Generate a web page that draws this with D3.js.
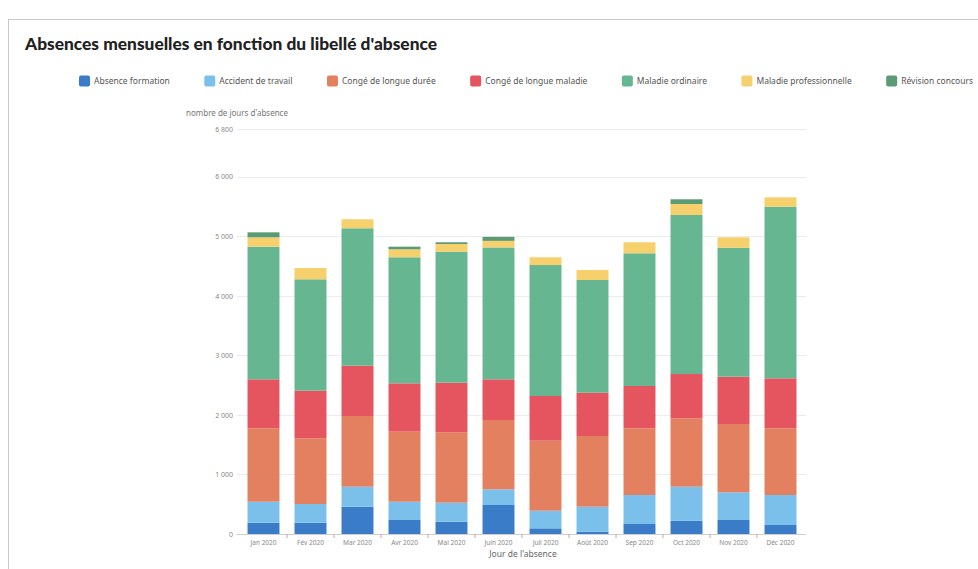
<!DOCTYPE html>
<html lang="fr">
<head>
<meta charset="utf-8">
<script src="https://cdn.jsdelivr.net/npm/d3@7"></script>
<style>
  html, body { margin: 0; padding: 0; background: #fff; }
  svg { display: block; font-family: "Noto Sans", "Open Sans", sans-serif; }
</style>
</head>
<body>
<svg id="chart" width="978" height="569"></svg>
<script>
// Months shown on the x axis
const months = ["Jan 2020", "Fév 2020", "Mar 2020", "Avr 2020", "Mai 2020", "Juin 2020",
                "Juil 2020", "Août 2020", "Sep 2020", "Oct 2020", "Nov 2020", "Déc 2020"];

// Absence types, stacked bottom to top
const labels = ["Absence formation", "Accident de travail", "Congé de longue durée",
                "Congé de longue maladie", "Maladie ordinaire", "Maladie professionnelle",
                "Révision concours"];

// Days of absence per month for each type
const absenceFormation      = [190, 190, 458, 235, 207, 487,  95,  39, 168, 224, 235, 151];
const accidentTravail       = [352, 314, 336, 307, 319, 263, 296, 419, 487, 570, 465, 504];
const congeLongueDuree      = [1233, 1103, 1187, 1176, 1182, 1164, 1176, 1187, 1120, 1148, 1147, 1120];
const congeLongueMaladie    = [822, 799, 845, 812, 833, 683, 750, 727, 710, 744, 794, 839];
const maladieOrdinaire      = [2227, 1870, 2307, 2116, 2199, 2214, 2199, 1893, 2228, 2670, 2166, 2881];
const maladieProfessionnelle= [157, 190, 151, 134, 129, 111, 130, 168, 185, 185, 174, 158];
const revisionConcours      = [84, 0, 0, 44, 29, 67, 0, 0, 0, 79, 0, 0];

// Y axis ticks
const yTicks = [0, 1000, 2000, 3000, 4000, 5000, 6000, 6800];
const yMax = 6800;

const colors = ["#3a7cc8", "#7bc0eb", "#e2805f", "#e5555f", "#66b692", "#f5d06c", "#5a9a75"];

const seriesValues = [absenceFormation, accidentTravail, congeLongueDuree, congeLongueMaladie,
                      maladieOrdinaire, maladieProfessionnelle, revisionConcours];

const rows = months.map((m, i) => {
  const r = { month: m };
  labels.forEach((l, k) => { r[l] = seriesValues[k][i]; });
  return r;
});

const svg = d3.select("#chart");

// Card frame
svg.append("rect")
  .attr("x", 8.5).attr("y", 19.5)
  .attr("width", 1000).attr("height", 600)
  .attr("fill", "none").attr("stroke", "#c9c9c9").attr("stroke-width", 1);

// Title
const title = svg.append("text")
  .attr("x", 25).attr("y", 50)
  .attr("font-family", "Lato, 'Noto Sans', sans-serif")
  .attr("font-weight", 900)
  .attr("font-size", 16)
  .attr("fill", "#222")
  .text("Absences mensuelles en fonction du libellé d'absence");
title.attr("textLength", 412).attr("lengthAdjust", "spacingAndGlyphs");

// Legend
const legend = svg.append("g");
const items = legend.selectAll("g").data(labels).join("g");
items.append("rect")
  .attr("width", 11).attr("height", 11).attr("rx", 2)
  .attr("y", -5.5)
  .attr("fill", (d, i) => colors[i]);
items.append("text")
  .attr("x", 15).attr("y", 0).attr("dy", "0.35em")
  .attr("font-size", 8.5).attr("fill", "#555")
  .text(d => d);
const widths = [];
items.each(function () { widths.push(15 + d3.select(this).select("text").node().getComputedTextLength()); });
const legendStart = 79, legendEnd = 973;
const gap = (legendEnd - legendStart - d3.sum(widths)) / (labels.length - 1);
let lx = legendStart;
items.attr("transform", (d, i) => { const t = `translate(${lx},81)`; lx += widths[i] + gap; return t; });

// Scales
const x = d3.scaleBand().domain(months).range([240, 804]).paddingInner(0.32).paddingOuter(0.16);
const y = d3.scaleLinear().domain([0, yMax]).range([534, 129]);

const fmt = d3.formatLocale({ decimal: ",", thousands: " ", grouping: [3], currency: ["", " €"] }).format(",d");

// Gridlines
svg.append("g").selectAll("line").data(yTicks.filter(t => t > 0)).join("line")
  .attr("x1", 237).attr("x2", 806)
  .attr("y1", d => Math.round(y(d)) + 0.5).attr("y2", d => Math.round(y(d)) + 0.5)
  .attr("stroke", "#ececec");

// Y axis labels
const yAxis = d3.axisLeft(y).tickValues(yTicks).tickFormat(fmt).tickSize(0).tickPadding(3);
svg.append("g").attr("transform", "translate(236,0)").call(yAxis)
  .call(g => g.select(".domain").remove())
  .call(g => g.selectAll("text").attr("font-size", 7).attr("fill", "#888").attr("font-family", "'Noto Sans', sans-serif"));

// Y axis title
svg.append("text")
  .attr("x", 186).attr("y", 116)
  .attr("font-size", 8).attr("fill", "#777")
  .text("nombre de jours d'absence");

// Stacked bars
const stack = d3.stack().keys(labels)(rows);
svg.append("g").selectAll("g").data(stack).join("g")
  .attr("fill", (d, i) => colors[i])
  .selectAll("rect").data(d => d).join("rect")
  .attr("x", d => x(d.data.month))
  .attr("width", x.bandwidth())
  .attr("y", d => y(d[1]))
  .attr("height", d => y(d[0]) - y(d[1]));

// X axis
const xAxis = d3.axisBottom(x).tickSize(0).tickPadding(6);
const gx = svg.append("g").attr("transform", "translate(0,534)").call(xAxis);
gx.select(".domain").attr("stroke", "#cfcfcf").attr("d", "M236,0.5H806");
gx.selectAll("text").attr("font-size", 6.5).attr("fill", "#888").attr("font-family", "'Noto Sans', sans-serif");
// small separators between months
svg.append("g").selectAll("line").data(months.slice(1)).join("line")
  .attr("x1", d => x(d) - x.step() * x.paddingInner() / 2)
  .attr("x2", d => x(d) - x.step() * x.paddingInner() / 2)
  .attr("y1", 534).attr("y2", 538)
  .attr("stroke", "#d8a090").attr("stroke-width", 1);

// X axis title
svg.append("text")
  .attr("x", 523).attr("y", 557)
  .attr("text-anchor", "middle")
  .attr("font-size", 8.5).attr("fill", "#666")
  .text("Jour de l'absence");
</script>
</body>
</html>
